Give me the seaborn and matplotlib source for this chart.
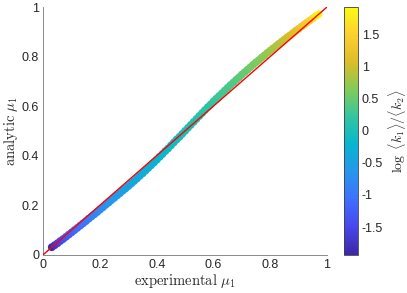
import numpy as np
import pandas as pd
import matplotlib
matplotlib.use('Agg')
import matplotlib.pyplot as plt
import seaborn as sns
from matplotlib.colors import LinearSegmentedColormap, Normalize

# experimental vs analytic mu_1, coloured by log <k1>/<k2>
mu_exp = [0.03, 0.04, 0.05, 0.06, 0.07, 0.08, 0.09, 0.10, 0.11, 0.12,
          0.13, 0.14, 0.15, 0.16, 0.17, 0.18, 0.19, 0.20, 0.21, 0.22,
          0.23, 0.24, 0.25, 0.26, 0.27, 0.28, 0.29, 0.30, 0.31, 0.32,
          0.33, 0.34, 0.35, 0.36, 0.37, 0.38, 0.39, 0.40, 0.41, 0.42,
          0.43, 0.44, 0.45, 0.46, 0.47, 0.48, 0.49, 0.50, 0.51, 0.52,
          0.53, 0.54, 0.55, 0.56, 0.57, 0.58, 0.59, 0.60, 0.61, 0.62,
          0.63, 0.64, 0.65, 0.66, 0.67, 0.68, 0.69, 0.70, 0.71, 0.72,
          0.73, 0.74, 0.75, 0.76, 0.77, 0.78, 0.79, 0.80, 0.81, 0.82,
          0.83, 0.84, 0.85, 0.86, 0.87, 0.88, 0.89, 0.90, 0.91, 0.92,
          0.93, 0.94, 0.95, 0.96, 0.97]
mu_ana = [0.030, 0.038, 0.046, 0.055, 0.063, 0.072, 0.081, 0.090, 0.099, 0.108,
          0.117, 0.126, 0.135, 0.145, 0.154, 0.163, 0.172, 0.182, 0.191, 0.201,
          0.210, 0.220, 0.229, 0.239, 0.248, 0.258, 0.267, 0.277, 0.287, 0.297,
          0.307, 0.318, 0.328, 0.339, 0.350, 0.361, 0.372, 0.383, 0.395, 0.406,
          0.418, 0.429, 0.441, 0.453, 0.465, 0.476, 0.488, 0.500, 0.512, 0.524,
          0.536, 0.548, 0.560, 0.572, 0.584, 0.596, 0.607, 0.619, 0.630, 0.641,
          0.652, 0.663, 0.674, 0.685, 0.695, 0.706, 0.716, 0.727, 0.737, 0.747,
          0.757, 0.767, 0.777, 0.786, 0.796, 0.805, 0.815, 0.824, 0.833, 0.842,
          0.851, 0.860, 0.869, 0.878, 0.886, 0.895, 0.904, 0.912, 0.921, 0.929,
          0.938, 0.946, 0.954, 0.963, 0.971]
log_k = [-1.91, -1.75, -1.62, -1.51, -1.42, -1.34, -1.27, -1.21, -1.15, -1.10,
         -1.05, -1.00, -0.95, -0.91, -0.87, -0.83, -0.80, -0.76, -0.73, -0.70,
         -0.66, -0.63, -0.60, -0.58, -0.55, -0.52, -0.49, -0.47, -0.44, -0.41,
         -0.39, -0.36, -0.34, -0.32, -0.29, -0.27, -0.25, -0.22, -0.20, -0.18,
         -0.16, -0.13, -0.11, -0.09, -0.07, -0.04, -0.02, 0.00, 0.02, 0.04,
         0.07, 0.09, 0.11, 0.13, 0.16, 0.18, 0.20, 0.22, 0.25, 0.27,
         0.29, 0.32, 0.34, 0.36, 0.39, 0.41, 0.44, 0.47, 0.49, 0.52,
         0.55, 0.58, 0.60, 0.63, 0.66, 0.70, 0.73, 0.76, 0.80, 0.83,
         0.87, 0.91, 0.95, 1.00, 1.05, 1.10, 1.15, 1.21, 1.27, 1.34,
         1.42, 1.51, 1.62, 1.75, 1.91]
diag = [0, 1]

df = pd.DataFrame({'exp': mu_exp, 'ana': mu_ana, 'logk': log_k})

# rough parula
parula = LinearSegmentedColormap.from_list('parula', [
    (0.2422, 0.1504, 0.6603), (0.2803, 0.2782, 0.9221), (0.2440, 0.4358, 0.9988),
    (0.1540, 0.5902, 0.9218), (0.0297, 0.7082, 0.8163), (0.1938, 0.7758, 0.6251),
    (0.5044, 0.7993, 0.3480), (0.8634, 0.7406, 0.1596), (0.9892, 0.8136, 0.1885),
    (0.9769, 0.9839, 0.0805)])
norm = Normalize(vmin=-1.93, vmax=1.93)

sns.set_style('white')
plt.rcParams['font.family'] = ['Liberation Sans', 'DejaVu Sans']
plt.rcParams['mathtext.fontset'] = 'cm'

fig = plt.figure(figsize=(4.07, 2.93), dpi=100)
ax = fig.add_axes([0.1064, 0.131, 0.697, 0.845])
cax = fig.add_axes([0.845, 0.131, 0.034, 0.845])

sns.scatterplot(data=df, x='exp', y='ana', hue='logk', palette=parula,
                hue_norm=norm, s=32, linewidth=0, legend=False, ax=ax, zorder=2)
sns.lineplot(x=diag, y=diag, color='red', lw=1.0, ax=ax, zorder=3)

ax.set_xlim(0, 1)
ax.set_ylim(0, 1)
ax.set_xticks([0, 0.2, 0.4, 0.6, 0.8, 1])
ax.set_yticks([0, 0.2, 0.4, 0.6, 0.8, 1])
ax.set_xticklabels(['0', '0.2', '0.4', '0.6', '0.8', '1'])
ax.set_yticklabels(['0', '0.2', '0.4', '0.6', '0.8', '1'])
ax.tick_params(direction='in', length=3, width=0.6, labelsize=9,
               colors='#262626', pad=3)
for s in ['top', 'right']:
    ax.spines[s].set_visible(False)
for s in ['left', 'bottom']:
    ax.spines[s].set_color('#8a8a8a')
    ax.spines[s].set_linewidth(0.7)
ax.set_xlabel(r'$\mathrm{experimental}\ \mu_1$', fontsize=10.5, labelpad=1)
ax.set_ylabel(r'$\mathrm{analytic}\ \mu_1$', fontsize=10.5, labelpad=1)

sm = plt.cm.ScalarMappable(cmap=parula, norm=norm)
cb = fig.colorbar(sm, cax=cax)
cb.set_ticks([-1.5, -1, -0.5, 0, 0.5, 1, 1.5])
cb.set_ticklabels(['-1.5', '-1', '-0.5', '0', '0.5', '1', '1.5'])
cb.ax.tick_params(direction='in', length=2, width=0.5, labelsize=9,
                  colors='#262626', pad=3)
cb.outline.set_linewidth(0.6)
cb.outline.set_edgecolor('#404040')
cb.set_label(r'$\log\ \langle k_1\rangle/\langle k_2\rangle$', fontsize=10, labelpad=2)

fig.savefig('out.png', dpi=100)
